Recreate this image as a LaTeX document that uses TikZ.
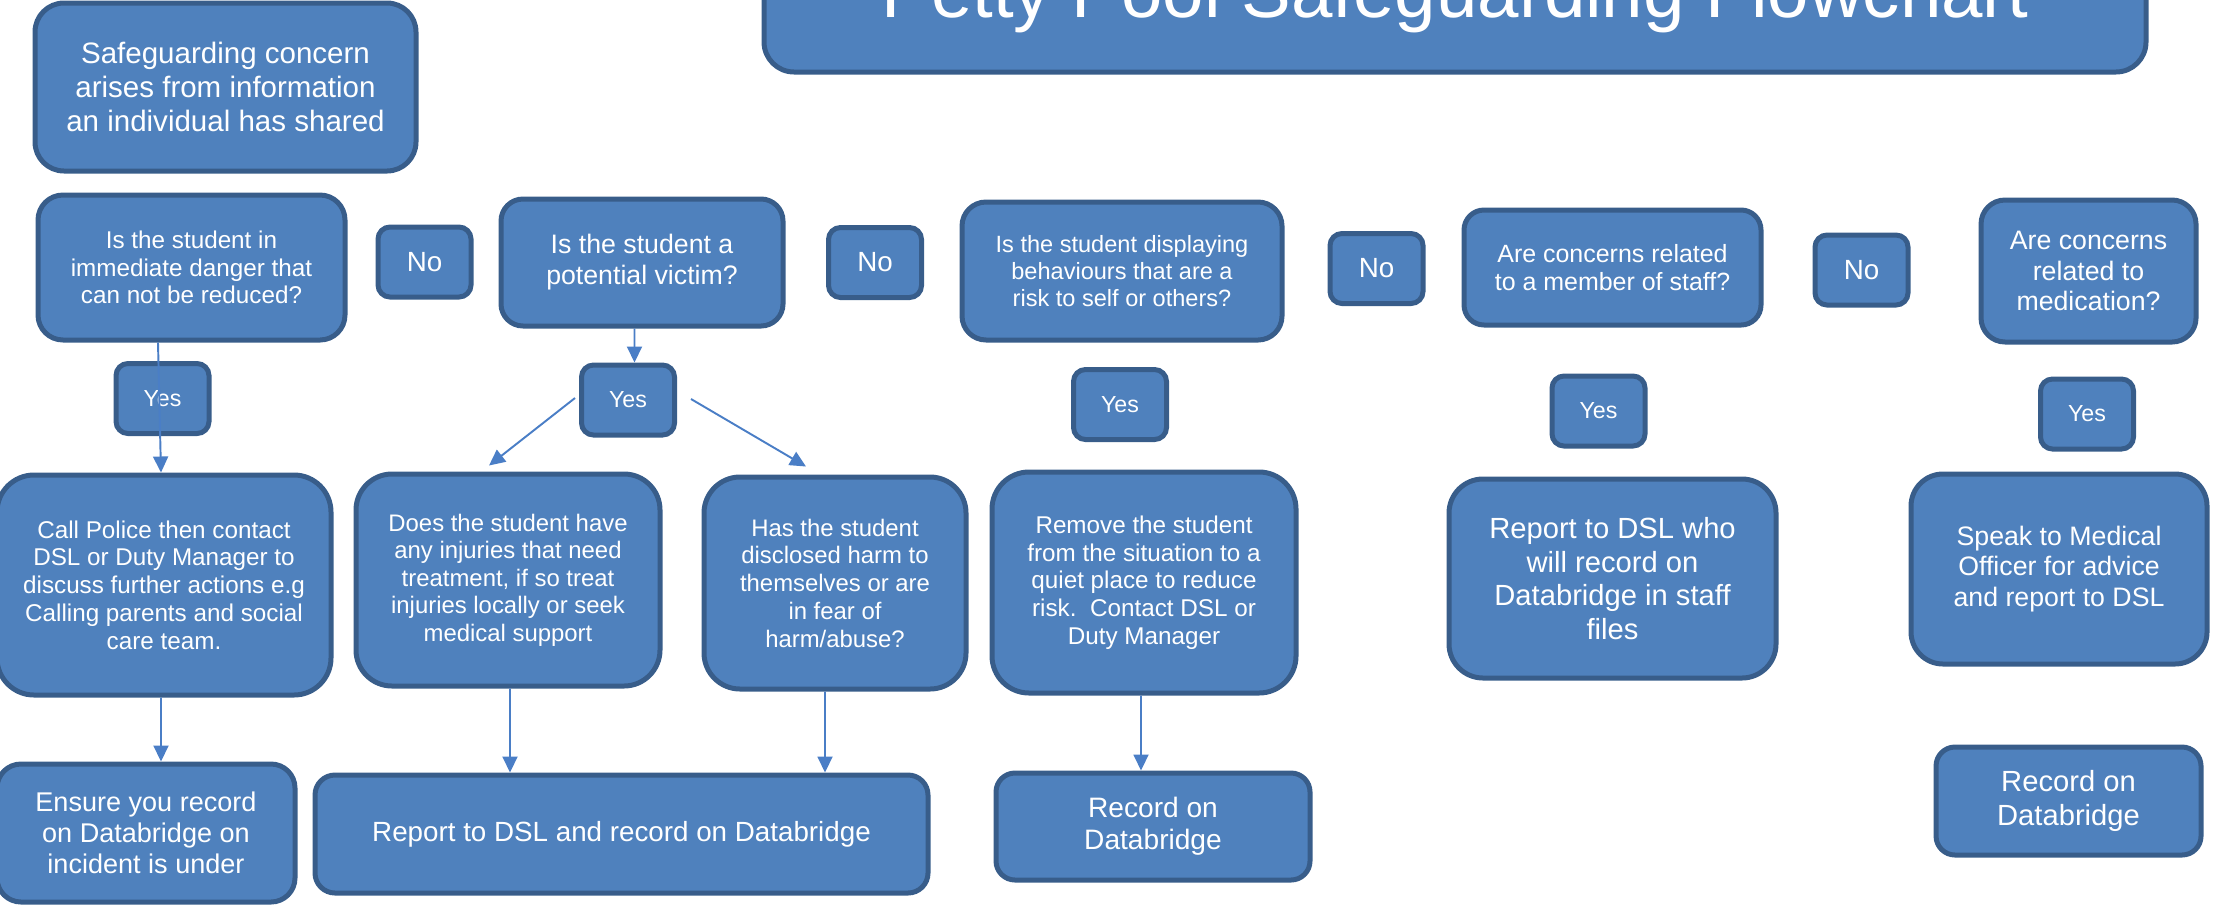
\documentclass[tikz,border=0pt]{standalone}
\usepackage{fontspec}
\setmainfont{Liberation Sans}
\usepackage{tikz}
\usetikzlibrary{
    positioning,
    arrows.meta
}
\definecolor{boxfill}{HTML}{4F81BD}
\definecolor{boxedge}{HTML}{385D8A}
\definecolor{flowline}{HTML}{4A7EC6}
\newcommand{\fsz}[2]{\fontsize{#1}{#2}\selectfont}
\tikzset{
    >={Triangle[width=1.5mm,length=1.6mm]},
    box/.style={
        draw=boxedge,
        fill=boxfill,
        line width=0.5mm,
        text=white,
        align=center,
        inner sep=0pt,
        rounded corners=#1
    },
    box/.default=2.4mm,
    answer/.style={
        box=1.2mm,
        minimum width=9.3mm,
        minimum height=7mm
    },
    flow/.style={
        ->,
        draw=flowline,
        fill=flowline,
        line width=0.55pt
    }
}

\begin{document}
\begin{tikzpicture}[
    x=0.1mm,
    y=-0.1mm
]
    \useasboundingbox (0,0) rectangle (2213,905);
    \clip (0,0) rectangle (2213,905);

    % Titulo y origen
    \node[box=3mm, anchor=base, minimum width=138.2mm, text height=20mm,
          text depth=0pt, inner ysep=5.5mm, font={\fsz{21.2}{24}}]
        (title) at (1455,17) {Petty Pool Safeguarding Flowchart};
    \node[box=2.9mm, minimum width=38.1mm, minimum height=16.8mm, font={\fsz{8.4}{9.7}}]
        (sg) at (225.5,87) {Safeguarding concern\\arises from information\\an individual has shared};

    % Preguntas
    \node[box=2.5mm, minimum width=30.7mm, minimum height=14.5mm, font={\fsz{6.9}{7.9}}]
        (q1) at (191.5,267.5) {Is the student in\\immediate danger that\\can not be reduced?};
    \node[box=2.2mm, minimum width=28.2mm, minimum height=12.7mm, font={\fsz{7.6}{8.8}}]
        (q2) at (642,262.5) {Is the student a\\potential victim?};
    \node[box=2.4mm, minimum width=32mm, minimum height=13.8mm, font={\fsz{6.7}{7.7}}]
        (q3) at (1122,271) {Is the student displaying\\behaviours that are a\\risk to self or others?};
    \node[box=2mm, minimum width=29.7mm, minimum height=11.5mm, font={\fsz{7.1}{8.2}}]
        (q4) at (1612.5,267.5) {Are concerns related\\to a member of staff?};
    \node[box=2.4mm, minimum width=21.5mm, minimum height=14.2mm, font={\fsz{7.6}{8.7}}]
        (q5) at (2088.5,271) {Are concerns\\related to\\medication?};

    % No
    \node[answer, font={\fsz{7.9}{9}}] (n1) at (424.5,262)   {No};
    \node[answer, font={\fsz{7.9}{9}}] (n2) at (875,262.5)   {No};
    \node[answer, font={\fsz{7.9}{9}}] (n3) at (1376.5,268.5) {No};
    \node[answer, font={\fsz{7.9}{9}}] (n4) at (1861.5,270)  {No};

    % Yes
    \node[answer, font={\fsz{6.6}{7.6}}] (y1) at (162.5,398.5) {Yes};
    \node[answer, font={\fsz{6.6}{7.6}}] (y2) at (628,400)     {Yes};
    \node[answer, font={\fsz{6.6}{7.6}}] (y3) at (1120,404.5)  {Yes};
    \node[answer, font={\fsz{6.6}{7.6}}] (y4) at (1598.5,411)  {Yes};
    \node[answer, font={\fsz{6.6}{7.6}}] (y5) at (2087,414)    {Yes};

    % Acciones
    \node[box=3.7mm, minimum width=33.4mm, minimum height=22mm, font={\fsz{6.9}{7.9}}]
        (a1) at (164,585) {Call Police then contact\\DSL or Duty Manager to\\discuss further actions e.g\\Calling parents and social\\care team.};
    \node[box=3.6mm, minimum width=30.4mm, minimum height=21.2mm, font={\fsz{6.8}{7.8}}]
        (a2) at (508,580) {Does the student have\\any injuries that need\\treatment, if so treat\\injuries locally or seek\\medical support};
    \node[box=3.6mm, minimum width=26.2mm, minimum height=21.2mm, font={\fsz{6.8}{7.9}}]
        (a3) at (835,583) {Has the student\\disclosed harm to\\themselves or are\\in fear of\\harm/abuse?};
    \node[box=3.7mm, minimum width=30.4mm, minimum height=22.1mm, font={\fsz{6.9}{7.9}}]
        (a4) at (1144,582.5) {Remove the student\\from the situation to a\\quiet place to reduce\\risk.\ \ Contact DSL or\\Duty Manager};
    \node[box=3.4mm, minimum width=32.7mm, minimum height=19.9mm, font={\fsz{8.3}{9.5}}]
        (a5) at (1612.5,578.5) {Report to DSL who\\will record on\\Databridge in staff\\files};
    \node[box=3.2mm, minimum width=29.6mm, minimum height=19mm, font={\fsz{7.6}{8.75}}]
        (a6) at (2059,569) {Speak to Medical\\Officer for advice\\and report to DSL};

    % Registro
    \node[box=2.4mm, minimum width=29.8mm, minimum height=13.8mm, font={\fsz{7.7}{8.85}}]
        (r1) at (146,833) {Ensure you record\\on Databridge on\\incident is under};
    \node[box=2mm, minimum width=61.3mm, minimum height=11.8mm, font={\fsz{7.9}{9}}]
        (r2) at (621.5,834) {Report to DSL and record on Databridge};
    \node[box=1.9mm, minimum width=31.4mm, minimum height=10.7mm, font={\fsz{8}{9.2}}]
        (r3) at (1153,826.5) {Record on\\Databridge};
    \node[box=1.9mm, minimum width=26.5mm, minimum height=10.8mm, font={\fsz{8.3}{9.9}}]
        (r4) at (2068.5,801) {Record on\\Databridge};

    % Flechas
    \draw[flow] ([xshift=-3.35mm]q1.south) -- ([xshift=-0.3mm]a1.north);
    \draw[flow] ([xshift=-0.75mm]q2.south) -- ([xshift=0.65mm]y2.north);
    \draw[flow] ([xshift=-0.4mm,yshift=0.2mm]y2.west) -- ([xshift=-1.9mm,yshift=0.6mm]a2.north);
    \draw[flow] ([xshift=1.4mm,yshift=0.1mm]y2.east) -- ([xshift=-2.9mm,yshift=0.8mm]a3.north);
    \draw[flow] ([xshift=-0.3mm]a1.south) -- ([xshift=1.5mm]r1.north);
    \draw[flow] ([xshift=0.2mm]a2.south) -- ([xshift=-11.15mm]r2.north);
    \draw[flow] ([xshift=-1mm]a3.south) -- ([xshift=20.35mm]r2.north);
    \draw[flow] ([xshift=-0.3mm]a4.south) -- ([xshift=-1.2mm]r3.north);

\end{tikzpicture}
\end{document}
